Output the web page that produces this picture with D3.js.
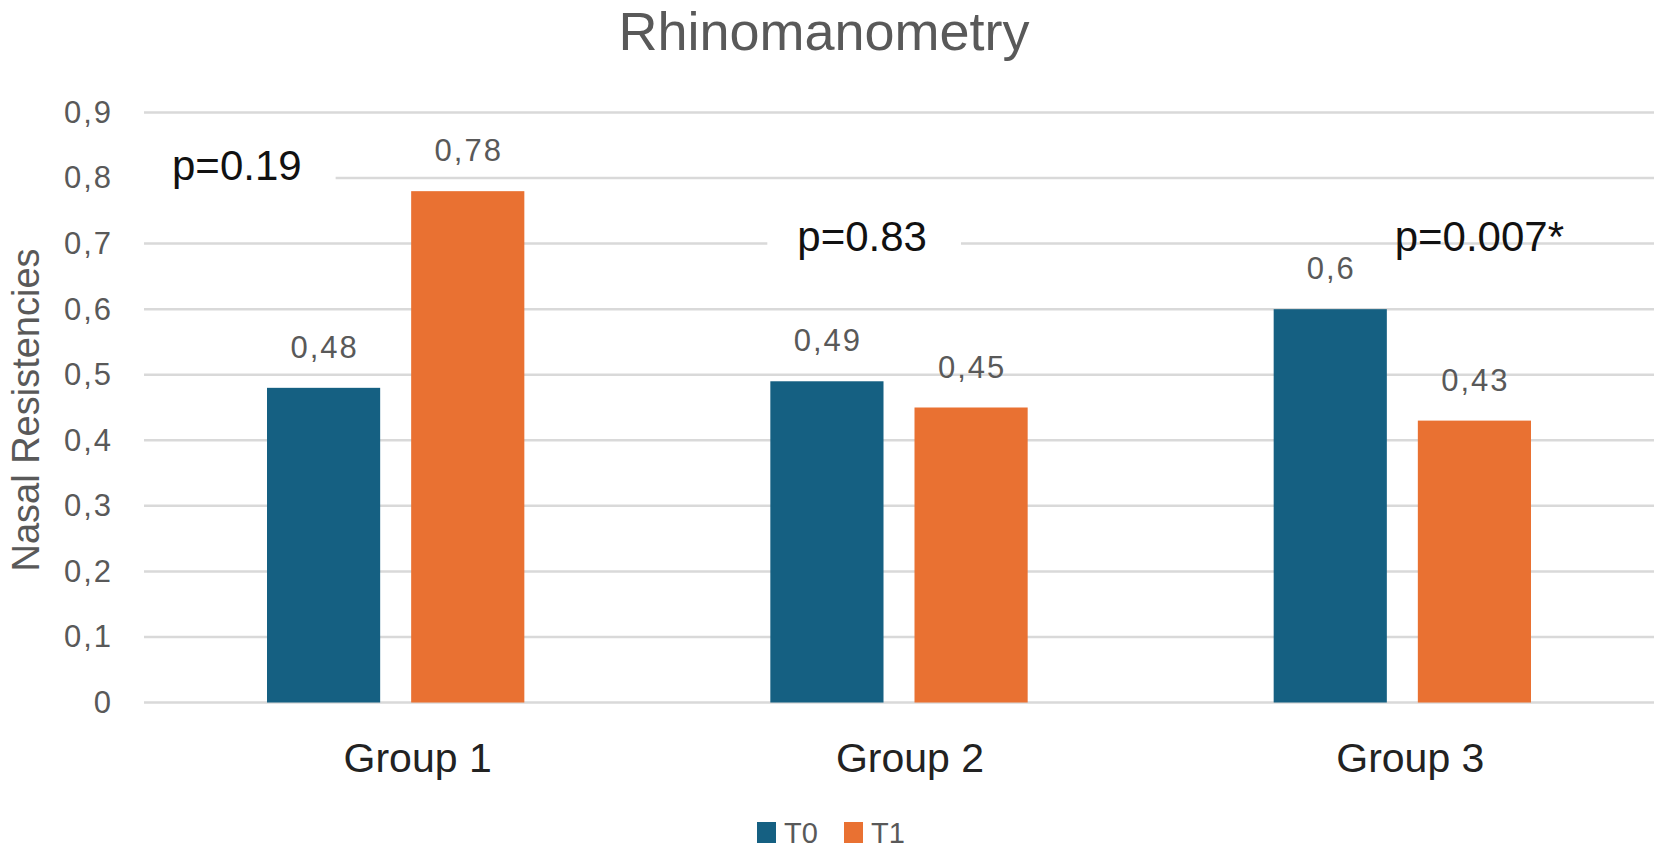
<!DOCTYPE html>
<html lang="en">
<head>
<meta charset="UTF-8">
<title>Rhinomanometry</title>
<script src="https://d3js.org/d3.v7.min.js"></script>
<style>
  body { margin: 0; background: #fff; }
  text { font-family: "Liberation Sans", Arial, sans-serif; }
</style>
</head>
<body>
<script>
// data
var groups = ["Group 1", "Group 2", "Group 3"];
var series = ["T0", "T1"];
var t0Values = [0.48, 0.49, 0.6];
var t1Values = [0.78, 0.45, 0.43];
var pLabels = ["p=0.19", "p=0.83", "p=0.007*"];
var yTicks = [0, 0.1, 0.2, 0.3, 0.4, 0.5, 0.6, 0.7, 0.8, 0.9];

var data = groups.map(function(g, i) {
  return {group: g, T0: t0Values[i], T1: t1Values[i]};
});

var W = 1666, H = 851;
var margin = {top: 112.5, right: 12, bottom: 148.5, left: 144};
var width = W - margin.left - margin.right,
    height = H - margin.top - margin.bottom;

var svg = d3.select("body").append("svg")
    .attr("width", W)
    .attr("height", H);

var g = svg.append("g")
    .attr("transform", "translate(" + margin.left + "," + margin.top + ")");

// scales
var x0 = d3.scaleBand().domain(groups).range([0, width]).padding(0);
var x1 = d3.scaleBand().domain(series)
    .range([123, x0.bandwidth() - 123])
    .paddingInner(0.215);
var y = d3.scaleLinear().domain([0, 0.9]).range([height, 0]);
var color = d3.scaleOrdinal().domain(series).range(["#156082", "#E97132"]);
var fmt = function(v) { return String(v).replace(".", ","); };

// gridlines
g.append("g")
  .selectAll("line")
  .data(yTicks)
  .enter().append("line")
    .attr("x1", 0)
    .attr("x2", width)
    .attr("y1", function(d) { return y(d); })
    .attr("y2", function(d) { return y(d); })
    .attr("stroke", "#d9d9d9")
    .attr("stroke-width", 2.5);

// y tick labels
var yAxis = g.append("g")
    .call(d3.axisLeft(y).tickValues(yTicks).tickSize(0).tickPadding(31)
      .tickFormat(function(d) { return d === 0 ? "0" : fmt(d); }));
yAxis.select(".domain").remove();
yAxis.selectAll("text")
    .attr("fill", "#595959")
    .style("font-size", "31px")
    .style("letter-spacing", "2px")
    .style("font-family", "'Liberation Sans', Arial, sans-serif");

// bars
var bars = g.append("g")
  .selectAll("g")
  .data(data)
  .enter().append("g")
    .attr("transform", function(d) { return "translate(" + x0(d.group) + ",0)"; });

bars.selectAll("rect")
  .data(function(d) { return series.map(function(k) { return {key: k, value: d[k]}; }); })
  .enter().append("rect")
    .attr("x", function(d) { return x1(d.key); })
    .attr("y", function(d) { return y(d.value); })
    .attr("width", x1.bandwidth())
    .attr("height", function(d) { return height - y(d.value); })
    .attr("fill", function(d) { return color(d.key); });

// value labels
bars.selectAll(".val")
  .data(function(d) { return series.map(function(k) { return {key: k, value: d[k]}; }); })
  .enter().append("text")
    .attr("class", "val")
    .attr("x", function(d) { return x1(d.key) + x1.bandwidth() / 2 + 1; })
    .attr("y", function(d) { return y(d.value) - 30; })
    .attr("text-anchor", "middle")
    .attr("fill", "#595959")
    .style("font-size", "31px")
    .style("letter-spacing", "2px")
    .text(function(d) { return fmt(d.value); });

// p-value annotations (offset from band start, height in data units)
var pPos = [
  {dx: 28, v: 0.797, box: true},
  {dx: 150, v: 0.689, box: true},
  {dx: 244, v: 0.689, box: false}
];
pLabels.forEach(function(lbl, i) {
  var px = x0(groups[i]) + pPos[i].dx, py = y(pPos[i].v);
  var ann = g.append("g");
  var bg = ann.append("rect").attr("fill", "#fff");
  var t = ann.append("text")
      .attr("x", px)
      .attr("y", py)
      .attr("fill", "#111")
      .style("font-size", "42px")
      .text(lbl);
  if (pPos[i].box) {
    var bb = t.node().getBBox();
    bg.attr("x", bb.x - 30)
      .attr("y", bb.y)
      .attr("width", bb.width + 64)
      .attr("height", bb.height);
  } else {
    bg.remove();
  }
});

// x category labels (slight per-label shift as in the original)
var labelShift = [22, 11, 8];
g.append("g")
  .selectAll("text")
  .data(groups)
  .enter().append("text")
    .attr("x", function(d, i) { return x0(d) + x0.bandwidth() / 2 + labelShift[i]; })
    .attr("y", height + 69)
    .attr("text-anchor", "middle")
    .attr("fill", "#222")
    .style("font-size", "41px")
    .text(function(d) { return d; });

// title
svg.append("text")
    .attr("x", 824)
    .attr("y", 50)
    .attr("text-anchor", "middle")
    .attr("fill", "#595959")
    .style("font-size", "54px")
    .text("Rhinomanometry");

// y axis title
svg.append("text")
    .attr("transform", "translate(39," + 410 + ") rotate(-90)")
    .attr("text-anchor", "middle")
    .attr("fill", "#595959")
    .style("font-size", "38px")
    .text("Nasal Resistencies");

// legend
var legend = svg.append("g").attr("transform", "translate(757,822)");
var li = legend.selectAll("g")
  .data(series)
  .enter().append("g")
    .attr("transform", function(d, i) { return "translate(" + (i * 87) + ",0)"; });
li.append("rect")
    .attr("width", 19)
    .attr("height", 21)
    .attr("fill", function(d) { return color(d); });
li.append("text")
    .attr("x", 27)
    .attr("y", 21)
    .attr("fill", "#595959")
    .style("font-size", "29px")
    .text(function(d) { return d; });
</script>
</body>
</html>
